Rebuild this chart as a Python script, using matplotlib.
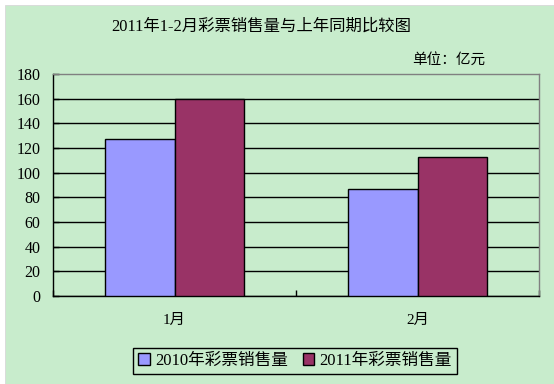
import matplotlib.pyplot as plt
import matplotlib.patches as mpatches
import numpy as np

plt.rcParams['font.family'] = ['Liberation Serif', 'Noto Sans CJK SC', 'DejaVu Sans']

months = ['1月', '2月']
sales_2010 = [127.1, 86.6]
sales_2011 = [159.8, 112.7]
series_names = ['2010年彩票销售量', '2011年彩票销售量']
yticks = [0, 20, 40, 60, 80, 100, 120, 140, 160, 180]

bg = '#C8ECCC'
blue = '#9999FF'
red = '#993366'

fig = plt.figure(figsize=(5.54, 3.84), dpi=100)
fig.patch.set_facecolor('white')
# green chart panel with small white margin on top/left
fig.patches.append(mpatches.Rectangle((5 / 554, 0), 549 / 554, 379 / 384,
                                      transform=fig.transFigure, facecolor=bg,
                                      edgecolor='#d8d8d8', linewidth=0.6, zorder=-10))

ax = fig.add_axes([53 / 554, 88 / 384, 486 / 554, 222 / 384])
ax.set_facecolor(bg)

x = np.arange(len(months))
w = 0.2857
ax.bar(x - w / 2, sales_2010, w, color=blue, edgecolor='black', linewidth=1, zorder=3,
       label=series_names[0])
ax.bar(x + w / 2, sales_2011, w, color=red, edgecolor='black', linewidth=1, zorder=3,
       label=series_names[1])

ax.set_xlim(-0.5, 1.5)
ax.set_ylim(0, 180)
ax.set_yticks(yticks)
ax.yaxis.grid(True, color='black', linewidth=1.0)
ax.get_ygridlines()[-1].set_visible(False)
ax.set_axisbelow(True)

ax.set_xticks([-0.5, 0.5, 1.5])
ax.set_xticklabels([])
ax.set_xticks(x, minor=True)
ax.set_xticklabels(months, minor=True, fontsize=11)
ax.tick_params(axis='x', which='major', direction='in', length=4, width=1, color='black')
ax.tick_params(axis='x', which='minor', length=0, pad=13)
ax.tick_params(axis='y', direction='in', length=4, width=1, labelsize=11.5, pad=9)

ax.spines['left'].set_color('black')
ax.spines['bottom'].set_color('black')
ax.spines['top'].set_color('#808080')
ax.spines['right'].set_color('#808080')
for s in ax.spines.values():
    s.set_linewidth(1.0)

fig.text(261 / 554, 1 - 27 / 384, '2011年1-2月彩票销售量与上年同期比较图',
         ha='center', va='center', fontsize=11.8)
fig.text(485 / 554, 1 - 60 / 384, '单位：亿元', ha='right', va='center', fontsize=10.5)

leg = fig.legend(loc='center', bbox_to_anchor=(295 / 554, 1 - 361 / 384), ncol=2,
                 fontsize=12, frameon=True, fancybox=False, edgecolor='black',
                 facecolor=bg, framealpha=1, borderpad=0.3, handlelength=0.7,
                 handleheight=0.7, handletextpad=0.3, columnspacing=0.9,
                 borderaxespad=0)
leg.get_frame().set_linewidth(1.0)

fig.savefig('out.png', dpi=100, facecolor=fig.get_facecolor())
